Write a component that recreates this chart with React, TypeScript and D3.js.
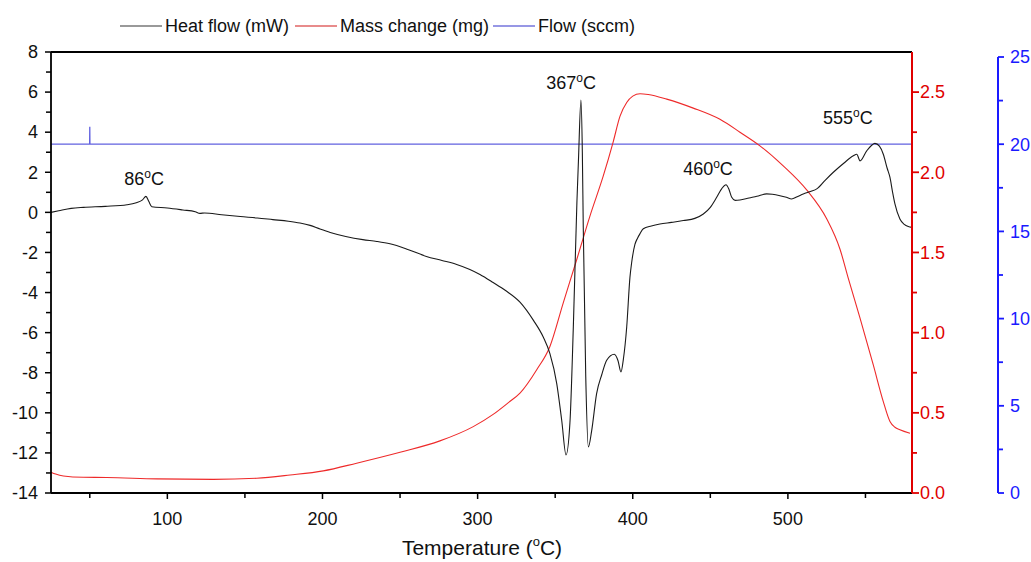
import React from "react";
import * as d3 from "d3";

// Heat flow (mW) vs temperature (°C)
const heatFlow: [number, number][] = [
  [25, 0.0], [30, 0.08], [38, 0.2], [46, 0.25], [60, 0.3], [74, 0.38],
  [80, 0.48], [84, 0.62], [86.2, 0.8], [88, 0.55], [90, 0.28], [100, 0.22],
  [110, 0.12], [118, 0.03], [121, -0.05], [124, -0.03], [135, -0.12],
  [147, -0.21], [158, -0.28], [168, -0.36], [178, -0.44], [185.5, -0.53],
  [192, -0.65], [198.4, -0.83], [205, -1.0], [215, -1.2], [226, -1.36],
  [235, -1.45], [243.5, -1.57], [255, -1.85], [267, -2.2], [277, -2.4],
  [286.5, -2.6], [295, -2.85], [301.5, -3.1], [310, -3.5], [318, -3.9],
  [327.3, -4.48], [336, -5.39], [342.3, -6.22], [346.6, -7.05], [351, -8.54],
  [354.2, -10.37], [357, -12.1], [359.5, -10.5], [361.7, -5.7], [364, 0.5],
  [365, 2.6], [366.6, 5.6], [367.5, 3.0], [368.1, -0.75], [369.7, -8.2],
  [371.4, -11.7], [373.5, -10.9], [376.7, -9.04], [380, -8.1], [383.2, -7.38],
  [388.1, -7.08], [390.5, -7.4], [392.4, -7.96], [394, -7.3], [396.1, -5.72],
  [398.2, -3.23], [399.3, -2.5], [401.4, -1.6], [403, -1.3], [404.7, -1.06],
  [406.8, -0.82], [412, -0.68], [417.5, -0.58], [425, -0.5], [432.6, -0.41],
  [440, -0.3], [445.5, -0.08], [450, 0.25], [454.1, 0.75], [457.5, 1.2],
  [460.1, 1.38], [462, 1.15], [463.8, 0.75], [466, 0.6], [469.1, 0.62],
  [475, 0.72], [480, 0.8], [486.3, 0.92], [490, 0.9], [494.9, 0.83],
  [499, 0.75], [502.4, 0.67], [506, 0.78], [509.9, 0.92], [515, 1.05],
  [518.6, 1.17], [524, 1.6], [529.3, 2.0], [536, 2.45], [542.2, 2.82],
  [544.4, 2.9], [546.5, 2.57], [550.8, 3.07], [554, 3.35], [556.1, 3.44],
  [559, 3.3], [561.5, 2.9], [564, 2.2], [565.8, 1.74], [567.5, 1.0],
  [569, 0.42], [572.2, -0.33], [575, -0.6], [577.6, -0.71], [580, -0.75],
];

// Mass change (mg) vs temperature (°C)
const massChange: [number, number][] = [
  [25, 0.13], [28, 0.118], [33, 0.106], [45.8, 0.098], [60.9, 0.097],
  [93.1, 0.088], [129.6, 0.085], [157.6, 0.092], [179.1, 0.112],
  [200.5, 0.138], [222, 0.186], [250, 0.254], [275.7, 0.325], [297.2, 0.414],
  [310, 0.49], [320, 0.565], [327.3, 0.623], [338.1, 0.769], [346.6, 0.914],
  [355.2, 1.186], [363.9, 1.456], [372.4, 1.727], [381, 1.977], [387.4, 2.19],
  [391.8, 2.35], [396.1, 2.435], [400, 2.475], [404.7, 2.49], [410, 2.485],
  [421.9, 2.456], [439, 2.4], [456.2, 2.33], [469.1, 2.25], [482, 2.165],
  [497, 2.04], [512.1, 1.89], [525, 1.71], [533.6, 1.52], [538.9, 1.34],
  [546.5, 1.09], [555, 0.8], [561.5, 0.57], [565.8, 0.446], [569, 0.41],
  [572.2, 0.394], [578.7, 0.373],
];

// Gas flow (sccm) vs temperature (°C)
const flowRate: [number, number][] = [
  [25, 20], [49.9, 20], [50, 21], [50.1, 20], [580, 20],
];

// peak labels: text, centre temperature, baseline heat-flow value
const peakLabels = [
  { num: "86", temp: 85, value: 1.37 },
  { num: "367", temp: 360.2, value: 6.15 },
  { num: "460", temp: 448.5, value: 1.87 },
  { num: "555", temp: 538.7, value: 4.41 },
];

const xMajor = [100, 200, 300, 400, 500];
const xMinor = [50, 150, 250, 350, 450, 550];
const heatMajor = d3.range(-14, 9, 2);
const heatMinor = d3.range(-13, 8, 2);
const massMajor = [0, 0.5, 1.0, 1.5, 2.0, 2.5];
const massMinor = [0.25, 0.75, 1.25, 1.75, 2.25];
const flowMajor = [0, 5, 10, 15, 20, 25];
const flowMinor = [2.5, 7.5, 12.5, 17.5, 22.5];

const legendItems = [
  { label: "Heat flow (mW)", color: "#777", x: 120 },
  { label: "Mass change (mg)", color: "#e06464", x: 295 },
  { label: "Flow (sccm)", color: "#7474dc", x: 493 },
];

const FONT = "'Liberation Sans', Arial, Helvetica, sans-serif";

export default function App() {
  const W = 1031;
  const H = 562;
  const left = 51, right = 912, top = 52, bottom = 493;
  const flowAxisX = 998;

  const x = d3.scaleLinear().domain([25, 580]).range([left, right]);
  const yHeat = d3.scaleLinear().domain([-14, 8]).range([bottom, top]);
  const yMass = d3.scaleLinear().domain([0, 2.75]).range([bottom, top]);
  const yFlow = d3.scaleLinear().domain([0, 25]).range([bottom, 57]);

  const heatLine = d3.line<[number, number]>()
    .x((d) => x(d[0])).y((d) => yHeat(d[1])).curve(d3.curveMonotoneX);
  const massLine = d3.line<[number, number]>()
    .x((d) => x(d[0])).y((d) => yMass(d[1])).curve(d3.curveMonotoneX);
  const flowLine = d3.line<[number, number]>()
    .x((d) => x(d[0])).y((d) => yFlow(d[1]));

  const fmt1 = d3.format(".1f");

  return (
    <svg width={W} height={H} style={{ position: "absolute", left: 0, top: 0, background: "#fff" }}
      fontFamily={FONT}>
      {/* legend */}
      {legendItems.map((d) => (
        <g key={d.label}>
          <line x1={d.x} x2={d.x + 42} y1={26} y2={26} stroke={d.color} strokeWidth={1.5} />
          <text x={d.x + 45} y={26} dy="0.35em" fontSize={18} fill="#111">{d.label}</text>
        </g>
      ))}

      {/* data */}
      <path d={flowLine(flowRate) || ""} fill="none" stroke="#6262e0" strokeWidth={1.3} />
      <path d={massLine(massChange) || ""} fill="none" stroke="#ee2a2a" strokeWidth={1.1} />
      <path d={heatLine(heatFlow) || ""} fill="none" stroke="#1a1a1a" strokeWidth={1.1} />

      {/* frame */}
      <line x1={left} x2={right} y1={top} y2={top} stroke="#000" strokeWidth={1.8} />
      <line x1={left} x2={right} y1={bottom} y2={bottom} stroke="#000" strokeWidth={1.8} />
      <line x1={left} x2={left} y1={top} y2={bottom} stroke="#000" strokeWidth={1.8} />

      {/* x axis */}
      {xMajor.map((t) => (
        <g key={"xM" + t}>
          <line x1={x(t)} x2={x(t)} y1={bottom} y2={bottom + 6} stroke="#000" strokeWidth={1.5} />
          <text x={x(t)} y={519} dy="0.35em" textAnchor="middle" fontSize={18} fill="#111">{t}</text>
        </g>
      ))}
      {xMinor.map((t) => (
        <line key={"xm" + t} x1={x(t)} x2={x(t)} y1={bottom} y2={bottom + 5} stroke="#000" strokeWidth={1.5} />
      ))}
      <text x={482} y={555} textAnchor="middle" fontSize={21} fill="#111">
        Temperature (<tspan dy={-9} fontSize={13}>o</tspan><tspan dy={9}>C)</tspan>
      </text>

      {/* left heat-flow axis */}
      {heatMajor.map((t) => (
        <g key={"hM" + t}>
          <line x1={left - 6} x2={left} y1={yHeat(t)} y2={yHeat(t)} stroke="#000" strokeWidth={1.5} />
          <text x={38} y={yHeat(t)} dy="0.35em" textAnchor="end" fontSize={18} fill="#111">{t}</text>
        </g>
      ))}
      {heatMinor.map((t) => (
        <line key={"hm" + t} x1={left - 5} x2={left} y1={yHeat(t)} y2={yHeat(t)} stroke="#000" strokeWidth={1.5} />
      ))}

      {/* right mass axis */}
      <line x1={right} x2={right} y1={top} y2={bottom} stroke="#e00000" strokeWidth={2} />
      {massMajor.map((t) => (
        <g key={"mM" + t}>
          <line x1={right} x2={right + 7} y1={yMass(t)} y2={yMass(t)} stroke="#e00000" strokeWidth={1.8} />
          <text x={920} y={yMass(t)} dy="0.35em" fontSize={18} fill="#e00000">{fmt1(t)}</text>
        </g>
      ))}
      {massMinor.map((t) => (
        <line key={"mm" + t} x1={right} x2={right + 5} y1={yMass(t)} y2={yMass(t)} stroke="#e00000" strokeWidth={1.8} />
      ))}

      {/* far right flow axis */}
      <line x1={flowAxisX} x2={flowAxisX} y1={yFlow(25)} y2={yFlow(0)} stroke="#1a1aff" strokeWidth={2} />
      {flowMajor.map((t) => (
        <g key={"fM" + t}>
          <line x1={flowAxisX} x2={flowAxisX + 6} y1={yFlow(t)} y2={yFlow(t)} stroke="#1a1aff" strokeWidth={1.8} />
          <text x={1010} y={yFlow(t)} dy="0.35em" fontSize={18} fill="#1a1aff">{t}</text>
        </g>
      ))}
      {flowMinor.map((t) => (
        <line key={"fm" + t} x1={flowAxisX} x2={flowAxisX + 5} y1={yFlow(t)} y2={yFlow(t)} stroke="#1a1aff" strokeWidth={1.8} />
      ))}

      {/* peak annotations */}
      {peakLabels.map((p) => (
        <text key={p.num} x={x(p.temp)} y={yHeat(p.value)} textAnchor="middle" fontSize={18} fill="#111">
          {p.num}
          <tspan dy={-7} fontSize={12}>o</tspan>
          <tspan dy={7}>C</tspan>
        </text>
      ))}
    </svg>
  );
}
